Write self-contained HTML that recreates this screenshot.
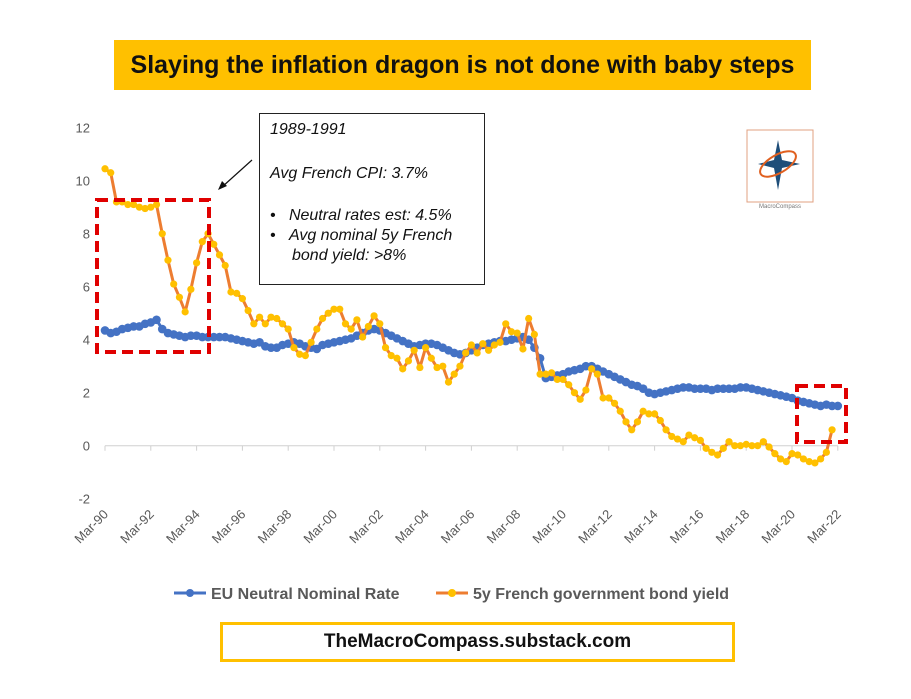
<!DOCTYPE html>
<html><head><meta charset="utf-8"><style>
body{margin:0;background:#fff;width:911px;height:699px;overflow:hidden;font-family:"Liberation Sans",sans-serif}
.abs{position:absolute}
</style></head><body>
<div class="abs" style="left:114px;top:40px;width:697px;height:50px;background:#FFC000;display:flex;align-items:center;justify-content:center;font-weight:bold;font-size:25px;color:#111">Slaying the inflation dragon is not done with baby steps</div>
<div class="abs" style="left:259px;top:113px;width:226px;height:172px;border:1.5px solid #222;font-style:italic;font-size:16px;color:#111;padding:6px 10px;box-sizing:border-box;line-height:20px">
<div>1989-1991</div><div style="margin-top:24px">Avg French CPI: 3.7%</div>
<div style="margin-top:22px;padding-left:22px;text-indent:-22px">•&nbsp;&nbsp;&nbsp;Neutral rates est: 4.5%</div>
<div style="padding-left:22px;text-indent:-22px">•&nbsp;&nbsp;&nbsp;Avg nominal 5y French bond yield: &gt;8%</div></div>
<div class="abs" style="left:220px;top:622px;width:515px;height:40px;border:3px solid #FFC000;box-sizing:border-box;display:flex;align-items:center;justify-content:center;font-weight:bold;font-size:19px;color:#111">TheMacroCompass.substack.com</div>
<svg class="abs" style="left:0;top:0" width="911" height="699" id="chart">
<g id="yaxis"></g>
<g id="xaxis"></g>
<g id="series"></g>
<rect x="97" y="200" width="112" height="152" fill="none" stroke="#E00000" stroke-width="4" stroke-dasharray="11,6"/>
<rect x="797" y="386" width="49" height="56" fill="none" stroke="#E00000" stroke-width="4" stroke-dasharray="11,6"/>
<line x1="252" y1="160" x2="222" y2="187" stroke="#111" stroke-width="1.2"/>
<polygon points="218,190 222,181 227,186" fill="#111"/>
<g>
<rect x="747" y="130" width="66" height="72" fill="none" stroke="#E0A080" stroke-width="1"/>
<polygon points="778,140 782,160 800,164 782,168 778,190 774,168 758,164 774,160" fill="#1F4E79"/>
<ellipse cx="778" cy="164" rx="20" ry="9" fill="none" stroke="#E06020" stroke-width="2" transform="rotate(-30 778 164)"/>
<text x="780" y="208" font-size="6" fill="#777" text-anchor="middle">MacroCompass</text>
</g>
<g>
<line x1="174" y1="593" x2="206" y2="593" stroke="#4472C4" stroke-width="3"/><circle cx="190" cy="593" r="4" fill="#4472C4"/>
<text x="211" y="599" font-size="16" font-weight="bold" fill="#595959">EU Neutral Nominal Rate</text>
<line x1="436" y1="593" x2="468" y2="593" stroke="#ED7D31" stroke-width="3"/><circle cx="452" cy="593" r="4" fill="#FFC000"/>
<text x="473" y="599" font-size="16" font-weight="bold" fill="#595959">5y French government bond yield</text>
</g>
</svg>
<script>
const yTicks=[-2,0,2,4,6,8,10,12];
const xTickLabels=["Mar-90","Mar-92","Mar-94","Mar-96","Mar-98","Mar-00","Mar-02","Mar-04","Mar-06","Mar-08","Mar-10","Mar-12","Mar-14","Mar-16","Mar-18","Mar-20","Mar-22"];
const xTickYears=[1990,1992,1994,1996,1998,2000,2002,2004,2006,2008,2010,2012,2014,2016,2018,2020,2022];
const startYear=1990;
const bondYield=[10.45,10.3,9.2,9.2, 9.1,9.1,9.0,8.95, 9.0,9.1,8.0,7.0, 6.1,5.6,5.05,5.9, 6.9,7.7,8.0,7.6, 7.2,6.8,5.8,5.75, 5.55,5.1,4.6,4.85, 4.6,4.85,4.8,4.6, 4.4,3.7,3.45,3.4, 3.9,4.4,4.8,5.0, 5.15,5.15,4.6,4.4, 4.75,4.1,4.5,4.9, 4.6,3.7,3.4,3.3, 2.9,3.2,3.6,2.95, 3.7,3.3,2.95,3.0, 2.4,2.7,3.0,3.5, 3.8,3.5,3.85,3.6, 3.8,3.9,4.6,4.3, 4.25,3.65,4.8,4.2, 2.7,2.7,2.75,2.5, 2.5,2.3,2.0,1.75, 2.1,2.9,2.7,1.8, 1.8,1.6,1.3,0.9, 0.6,0.9,1.3,1.2, 1.2,0.95,0.6,0.35, 0.25,0.15,0.4,0.3, 0.2,-0.1,-0.25,-0.35, -0.1,0.15,0.0,0.0, 0.05,0.0,0.0,0.15, -0.05,-0.3,-0.5,-0.6, -0.3,-0.35,-0.5,-0.6, -0.65,-0.5,-0.25,0.6];
const neutralRate=[4.35,4.25,4.3,4.4, 4.45,4.5,4.5,4.6, 4.65,4.75,4.4,4.25, 4.2,4.15,4.1,4.15, 4.15,4.1,4.1,4.1, 4.1,4.1,4.05,4.0, 3.95,3.9,3.85,3.9, 3.75,3.7,3.7,3.8, 3.85,3.9,3.85,3.75, 3.7,3.65,3.8,3.85, 3.9,3.95,4.0,4.05, 4.15,4.25,4.35,4.4, 4.35,4.25,4.15,4.05, 3.95,3.85,3.75,3.8, 3.85,3.85,3.8,3.7, 3.6,3.5,3.45,3.5, 3.6,3.7,3.8,3.85, 3.9,3.95,3.95,4.0, 4.05,4.1,4.0,3.7, 3.3,2.55,2.6,2.65, 2.7,2.8,2.85,2.9, 3.0,3.0,2.9,2.8, 2.7,2.6,2.5,2.4, 2.3,2.25,2.15,2.0, 1.95,2.0,2.05,2.1, 2.15,2.2,2.2,2.15, 2.15,2.15,2.1,2.15, 2.15,2.15,2.15,2.2, 2.2,2.15,2.1,2.05, 2.0,1.95,1.9,1.85, 1.8,1.7,1.65,1.6, 1.55,1.5,1.55,1.5, 1.5];
const NS="http://www.w3.org/2000/svg";
function X(yr){return 105+(yr-1990)*22.9;}
function Y(v){return 445.7-v*26.5;}
function mk(tag,attrs,parent){const e=document.createElementNS(NS,tag);for(const k in attrs)e.setAttribute(k,attrs[k]);parent.appendChild(e);return e;}
const ya=document.getElementById('yaxis'),xa=document.getElementById('xaxis'),sg=document.getElementById('series');
yTicks.forEach(t=>{const e=mk('text',{x:90,y:Y(t)+5,'font-size':13,fill:'#595959','text-anchor':'end'},ya);e.textContent=t;

});
mk('line',{x1:X(1990),x2:X(2022),y1:Y(0),y2:Y(0),stroke:'#D0D0D0','stroke-width':1},xa);
xTickYears.forEach((yr,i)=>{const x=X(yr);mk('line',{x1:x,x2:x,y1:Y(0),y2:Y(0)+5,stroke:'#D0D0D0'},xa);
const e=mk('text',{x:x+4,y:515,'font-size':13,fill:'#595959','text-anchor':'end',transform:`rotate(-45 ${x+4} 515)`},xa);e.textContent=xTickLabels[i];

});
function draw(data,line,dot,r,name){const g=mk('g',{},sg);


const pts=data.map((v,i)=>[X(startYear+i*0.25),Y(v)]);
mk('polyline',{points:pts.map(p=>p.join(',')).join(' '),fill:'none',stroke:line,'stroke-width':3,'stroke-linejoin':'round'},g);
pts.forEach(p=>{const c=mk('circle',{cx:p[0],cy:p[1],r:r,fill:dot},g);

});}
draw(neutralRate,'#4472C4','#4472C4',4.3,'series-neutral-rate');
draw(bondYield,'#ED7D31','#FFC000',3.6,'series-bond-yield');
</script>
</body></html>
